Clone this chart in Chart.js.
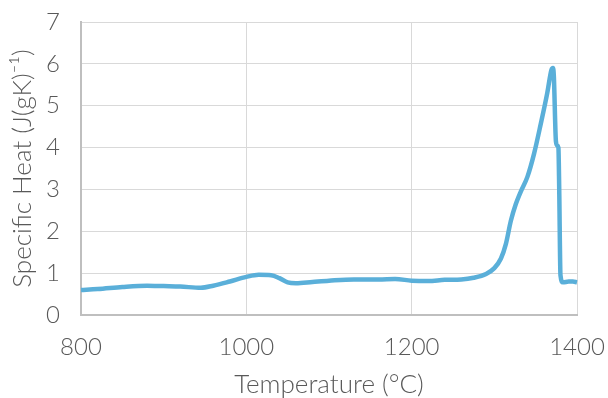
<!DOCTYPE html>
<html>
<head>
<meta charset="utf-8">
<script src="https://cdn.jsdelivr.net/npm/chart.js@4/dist/chart.umd.min.js"></script>
<style>
  html, body { margin: 0; padding: 0; background: #ffffff; }
  #wrap { width: 608px; height: 398px; }
</style>
</head>
<body>
<div id="wrap"><canvas id="c" width="608" height="398"></canvas></div>
<script>
// Specific heat curve from DSC scan
const temperatures = [800, 820, 850, 880, 900, 920, 945, 960, 980, 1000, 1015, 1030, 1040, 1050, 1060, 1080, 1100, 1130, 1160, 1180, 1200, 1220, 1240, 1260, 1275, 1290, 1300, 1308, 1314, 1320, 1326, 1332, 1340, 1348, 1356, 1364, 1369, 1371, 1372, 1374.5, 1376, 1377.5, 1378.5, 1380, 1383, 1390, 1395, 1400];
const specificHeat = [0.60, 0.62, 0.67, 0.70, 0.69, 0.68, 0.65, 0.70, 0.80, 0.91, 0.96, 0.95, 0.88, 0.78, 0.76, 0.79, 0.82, 0.85, 0.85, 0.86, 0.82, 0.81, 0.84, 0.85, 0.89, 0.98, 1.12, 1.35, 1.70, 2.25, 2.65, 2.95, 3.30, 3.85, 4.55, 5.30, 5.85, 5.90, 5.70, 4.15, 4.05, 4.00, 3.00, 0.95, 0.78, 0.80, 0.80, 0.78];
const xTicks = [800, 1000, 1200, 1400];
const yTicks = [0, 1, 2, 3, 4, 5, 6, 7];

const textColor = '#595959';
const fontFamily = 'Lato, "Open Sans", sans-serif';

// fixed axis boxes; label overhang is left to the outer layout padding
function fixBox(scale, size) {
  if (scale.isHorizontal()) scale.height = size; else scale.width = size;
  scale.paddingLeft = scale.paddingRight = scale.paddingTop = scale.paddingBottom = 0;
}

new Chart(document.getElementById('c'), {
  type: 'line',
  data: {
    datasets: [{
      data: temperatures.map((t, i) => ({ x: t, y: specificHeat[i] })),
      borderColor: '#5aafd9',
      borderWidth: 4.5,
      pointRadius: 0,
      fill: false,
      cubicInterpolationMode: 'monotone',
      clip: 4
    }]
  },
  options: {
    responsive: false,
    animation: false,
    layout: { padding: { left: 0, right: 31, top: 22, bottom: 0 } },
    plugins: { legend: { display: false }, tooltip: { enabled: false } },
    scales: {
      x: {
        type: 'linear',
        min: 800,
        max: 1400,
        afterBuildTicks: s => { s.ticks = xTicks.map(v => ({ value: v })); },
        afterFit: s => fixBox(s, 83),
        grid: { color: '#d9d9d9', lineWidth: 1, drawTicks: false },
        border: { color: '#bfbfbf', width: 2 },
        ticks: {
          color: textColor, padding: 18, maxRotation: 0,
          callback: v => String(v),
          font: { family: fontFamily, size: 24, weight: 300 }
        },
        title: {
          display: true, text: 'Temperature (°C)', color: textColor,
          padding: 0,
          font: { family: fontFamily, size: 26, weight: 300, lineHeight: 1 }
        }
      },
      y: {
        min: 0,
        max: 7,
        afterBuildTicks: s => { s.ticks = yTicks.map(v => ({ value: v })); },
        afterFit: s => fixBox(s, 81),
        grid: { color: '#d9d9d9', lineWidth: 1, drawTicks: false },
        border: { color: '#bfbfbf', width: 2 },
        ticks: {
          color: textColor, padding: 21,
          callback: v => String(v),
          font: { family: fontFamily, size: 24, weight: 300 }
        },
        title: {
          display: true, text: 'Specific Heat (J(gK)⁻¹)', color: textColor,
          padding: { top: 10, bottom: 0 },
          font: { family: fontFamily, size: 26, weight: 300, lineHeight: 1 }
        }
      }
    }
  }
});
</script>
</body>
</html>
